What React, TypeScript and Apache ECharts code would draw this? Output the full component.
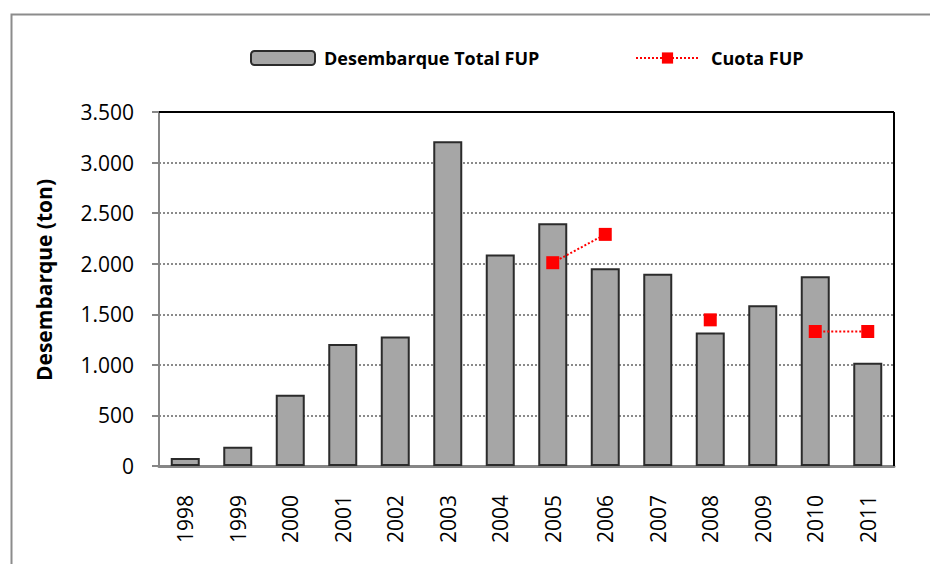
import React, { useEffect, useRef } from "react";
import * as echarts from "echarts";

const years = ["1998","1999","2000","2001","2002","2003","2004","2005","2006","2007","2008","2009","2010","2011"];
const desembarque = [80, 190, 705, 1205, 1280, 3210, 2090, 2400, 1955, 1900, 1320, 1590, 1875, 1020];
const cuota = [null, null, null, null, null, null, null, 2010, 2290, null, 1445, null, 1330, 1330];
const yTicks = { min: 0, max: 3500, interval: 500 };

const G = { left: 159, top: 112, right: 894, bottom: 466 };
const FONT = "'Open Sans', 'Noto Sans', sans-serif";

function fmt(v: number) {
  return String(v).replace(/\B(?=(\d{3})+(?!\d))/g, ".");
}

export default function App() {
  const ref = useRef<HTMLDivElement>(null);
  useEffect(() => {
    if (!ref.current) return;
    const chart = echarts.init(ref.current, null, { renderer: "svg" });
    chart.setOption({
      animation: false,
      backgroundColor: "#ffffff",
      grid: { left: G.left, top: G.top, right: 930 - G.right, bottom: 564 - G.bottom, containLabel: false },
      legend: [
        {
          data: ["Desembarque Total FUP"],
          left: 250, top: 49, padding: 0,
          itemWidth: 64, itemHeight: 14,
          textStyle: { fontFamily: FONT, fontWeight: "bold", fontSize: 18, color: "#000", padding: [0, 0, 0, 4] },
        },
        {
          data: ["Cuota FUP"],
          left: 635, top: 49, padding: 0,
          itemWidth: 63, itemHeight: 14,
          textStyle: { fontFamily: FONT, fontWeight: "bold", fontSize: 18, color: "#000", padding: [0, 0, 0, 7] },
        },
      ],
      xAxis: {
        type: "category",
        data: years,
        axisLine: { lineStyle: { color: "#868686", width: 3 } },
        axisTick: { show: false },
        axisLabel: { rotate: 90, margin: 29, fontFamily: FONT, fontSize: 21, color: "#000" },
      },
      yAxis: {
        type: "value",
        min: yTicks.min, max: yTicks.max, interval: yTicks.interval,
        name: "Desembarque (ton)",
        nameLocation: "middle",
        nameGap: 105,
        nameTextStyle: { fontFamily: FONT, fontWeight: "bold", fontSize: 21, color: "#000", padding: [0, 0, 0, 18] },
        axisLine: { show: true, lineStyle: { color: "#868686", width: 2 } },
        axisTick: { show: true, length: 7, lineStyle: { color: "#868686", width: 2 } },
        axisLabel: { margin: 25, fontFamily: FONT, fontSize: 21, color: "#000", formatter: (v: number) => fmt(v) },
        splitLine: { show: true, lineStyle: { color: "#8a8a8a", width: 2, type: [2, 2] } },
      },
      series: [
        {
          name: "Desembarque Total FUP",
          type: "bar",
          data: desembarque,
          barWidth: 29,
          itemStyle: { color: "#a6a6a6", borderColor: "#2b2b2b", borderWidth: 2 },
        },
        {
          name: "Cuota FUP",
          type: "line",
          data: cuota,
          connectNulls: false,
          symbol: "rect",
          symbolSize: 13,
          itemStyle: { color: "#ff0000" },
          lineStyle: { color: "#ff0000", width: 2, type: [2, 2] },
          z: 5,
        },
      ],
      graphic: [
        { type: "rect", left: 9, top: 12, z: 0, shape: { width: 1000, height: 1000 }, style: { fill: "none", stroke: "#8c8c8c", lineWidth: 2 } },
        { type: "line", z: 100, shape: { x1: G.left, y1: G.top, x2: G.right, y2: G.top }, style: { stroke: "#000", lineWidth: 2 } },
        { type: "line", z: 100, shape: { x1: G.right, y1: G.top, x2: G.right, y2: G.bottom }, style: { stroke: "#000", lineWidth: 2 } },
      ],
    });
    return () => chart.dispose();
  }, []);
  return <div ref={ref} style={{ position: "fixed", left: 0, top: 0, width: 930, height: 564 }} />;
}
